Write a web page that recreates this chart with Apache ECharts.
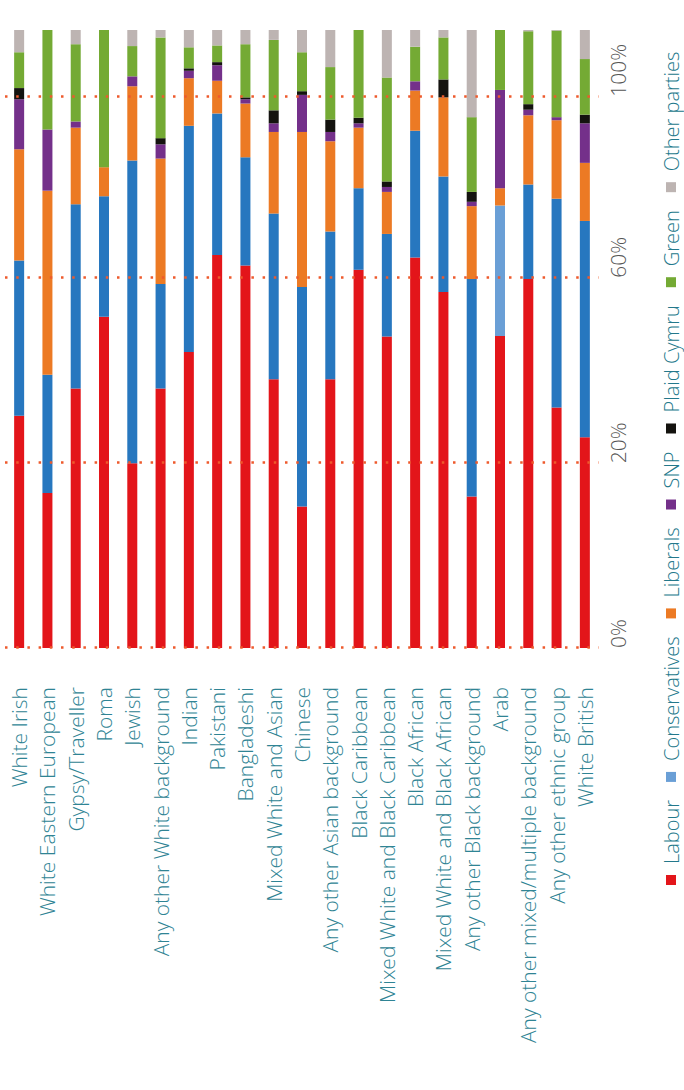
<!DOCTYPE html>
<html>
<head>
<meta charset="utf-8">
<script src="https://cdn.jsdelivr.net/npm/echarts@6/dist/echarts.min.js"></script>
<style>
  html, body { margin: 0; padding: 0; background: #ffffff; overflow: hidden; width: 684px; height: 1090px; }
  #chart { position: absolute; left: 0; top: 0; width: 1090px; height: 684px;
           transform-origin: 0 0; transform: translate(0px, 1090px) rotate(-90deg); }
</style>
</head>
<body>
<div id="chart"></div>
<script>
const categories = [
  'White Irish', 'White Eastern European', 'Gypsy/Traveller', 'Roma', 'Jewish',
  'Any other White background', 'Indian', 'Pakistani', 'Bangladeshi', 'Mixed White and Asian',
  'Chinese', 'Any other Asian background', 'Black Caribbean', 'Mixed White and Black Caribbean',
  'Black African', 'Mixed White and Black African', 'Any other Black background', 'Arab',
  'Any other mixed/multiple background', 'Any other ethnic group', 'White British'
];
const labour        = [37.6, 25.1, 42.0, 53.6, 29.9, 42.0, 47.9, 63.6, 61.9, 43.5, 22.9, 43.5, 61.2, 50.4, 63.2, 57.6, 24.5, 50.5, 59.7, 38.9, 34.1];
const conservatives = [25.1, 19.1, 29.8, 19.5, 49.0, 16.9, 36.6, 22.9, 17.5, 26.8, 35.5, 23.9, 13.2, 16.6, 20.5, 18.7, 35.2, 21.1, 15.3, 33.8, 35.0];
const liberals      = [18.0, 29.8, 12.4, 4.7, 12.0, 20.3, 7.7, 5.3, 8.7, 13.2, 25.1, 14.6, 9.8, 6.8, 6.5, 12.8, 11.8, 2.8, 11.2, 12.7, 9.4];
const snp           = [8.1, 9.9, 1.0, 0, 1.6, 2.3, 1.2, 2.5, 0.7, 1.4, 6.0, 1.5, 0.7, 0.8, 1.5, 0, 0.7, 15.9, 0.9, 0.5, 6.4];
const plaidCymru    = [1.8, 0, 0, 0, 0, 1.0, 0.4, 0.5, 0.3, 2.1, 0.6, 2.0, 0.9, 0.9, 0, 2.9, 1.6, 0, 0.9, 0, 1.4];
const green         = [5.8, 16.1, 12.5, 22.2, 4.9, 16.3, 3.4, 2.7, 8.6, 11.4, 6.3, 8.5, 14.2, 16.8, 5.6, 6.8, 12.1, 9.7, 11.8, 14.0, 9.0];
const otherParties  = [3.6, 0, 2.3, 0, 2.6, 1.2, 2.8, 2.5, 2.3, 1.6, 3.6, 6.0, 0, 7.7, 2.7, 1.2, 14.1, 0, 0.2, 0.1, 4.7];

// value-axis tick positions and their printed labels (as shown in the reference)
const tickValues = [0, 29.9, 59.9, 89.2];
const tickLabels = ['0%', '20%', '60%', '100%'];

const seriesNames = ['Labour', 'Conservatives', 'Liberals', 'SNP', 'Plaid Cymru', 'Green', 'Other parties'];
const seriesData = [labour, conservatives, liberals, snp, plaidCymru, green, otherParties];
const colors = ['#e3151a', '#6a9fd6', '#ec7a24', '#74308a', '#14130f', '#74aa34', '#bdb4b2'];
const conservativeDark = '#2777bf';

const chart = echarts.init(document.getElementById('chart'), null, { renderer: 'svg', width: 1090, height: 684 });

const series = seriesNames.map((name, i) => {
  let data = seriesData[i];
  if (name === 'Conservatives') {
    // all bars use the darker blue except "Arab", which keeps the lighter legend blue
    data = data.map((v, j) => categories[j] === 'Arab' ? v : { value: v, itemStyle: { color: conservativeDark } });
  }
  const s = {
    name: name,
    type: 'bar',
    stack: 'total',
    barWidth: 10,
    data: data,
    itemStyle: { color: colors[i] },
    emphasis: { disabled: true }
  };
  if (i === seriesNames.length - 1) {
    s.markLine = {
      silent: true,
      symbol: 'none',
      label: { show: false },
      lineStyle: { color: '#ee5a2c', width: 2.5, type: [2.5, 8.7], opacity: 1 },
      data: tickValues.map(v => ({ xAxis: v }))
    };
  }
  return s;
});

chart.setOption({
  animation: false,
  color: colors,
  textStyle: { fontFamily: 'Open Sans' },
  grid: { left: 442, right: 30, top: 5, bottom: 85 },
  legend: {
    data: seriesNames,
    left: 200,
    top: 656,
    icon: 'rect',
    itemWidth: 10,
    itemHeight: 10,
    itemGap: 18,
    selectedMode: false,
    textStyle: { fontFamily: 'Open Sans', fontWeight: 300, fontSize: 20, color: '#23788b', padding: [0, 0, 0, 6] }
  },
  xAxis: {
    type: 'value',
    min: 0,
    max: 100,
    axisLine: { show: false },
    axisTick: { show: false },
    splitLine: { show: false },
    axisLabel: {
      customValues: tickValues,
      align: 'left',
      margin: 8,
      fontFamily: 'Open Sans',
      fontWeight: 300,
      fontSize: 21,
      color: '#555555',
      formatter: function (v) {
        const idx = tickValues.findIndex(t => Math.abs(t - v) < 1e-6);
        return idx >= 0 ? tickLabels[idx] : '';
      }
    }
  },
  yAxis: {
    type: 'category',
    data: categories,
    inverse: true,
    axisLine: { show: false },
    axisTick: { show: false },
    axisLabel: {
      margin: 39,
      fontFamily: 'Open Sans',
      fontWeight: 300,
      fontSize: 21,
      color: '#2f8494',
      interval: 0
    }
  },
  series: series
});
</script>
</body>
</html>
